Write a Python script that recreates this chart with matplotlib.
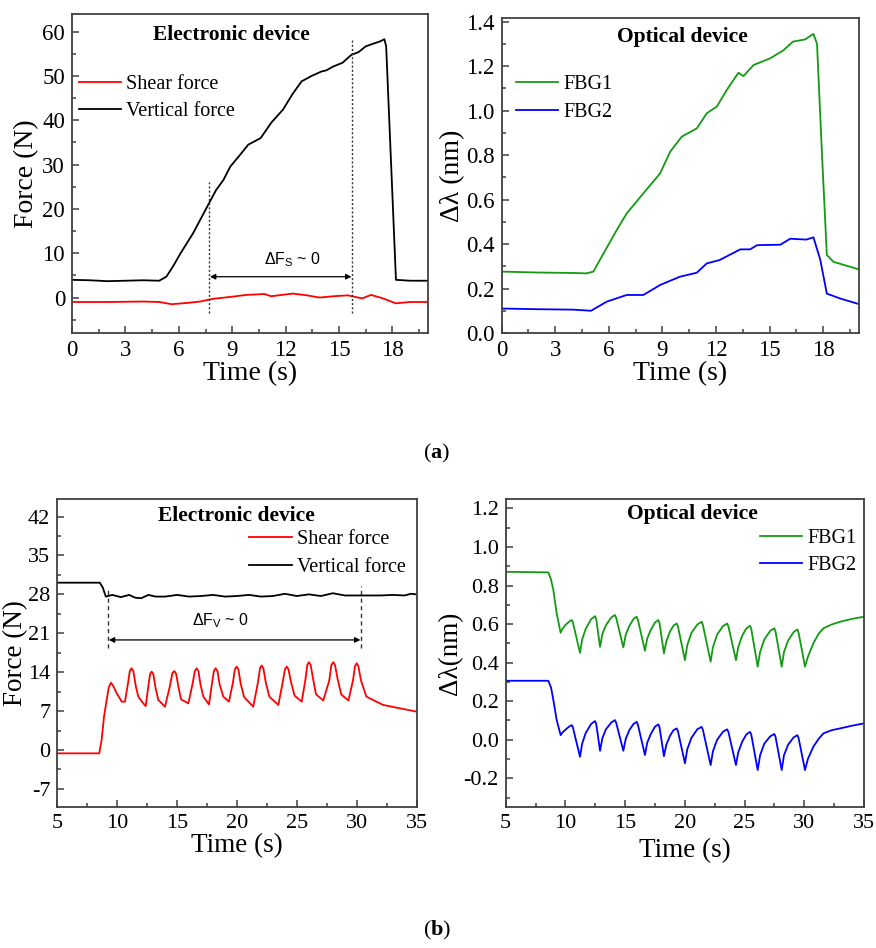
import matplotlib
matplotlib.use("Agg")
import matplotlib.pyplot as plt
from matplotlib.ticker import MultipleLocator, FormatStrFormatter

plt.rcParams['font.family'] = ['Liberation Serif', 'DejaVu Serif']
plt.rcParams['axes.unicode_minus'] = False
plt.rcParams['mathtext.fontset'] = 'custom'
plt.rcParams['mathtext.rm'] = 'Liberation Sans'
plt.rcParams['mathtext.bf'] = 'Liberation Serif:bold'

# ---------------- data: panel (a) ----------------
a_time_vert = [0, 1, 2, 3, 4, 4.9, 5.3, 5.7, 6.1, 6.8, 7.7, 8.1, 8.5, 8.9, 9.5, 9.9,
               10.6, 11.2, 11.85, 12.4, 12.9, 13.45, 14.0, 14.3, 14.65, 15.2, 15.7,
               16.1, 16.5, 17.0, 17.3, 17.55, 17.65, 18.2, 19, 20]
a_vert = [4.0, 3.9, 3.7, 3.8, 3.9, 3.8, 4.7, 7.2, 10, 14.5, 21.3, 24.3, 26.5, 29.6,
          32.5, 34.5, 36, 39.5, 42.4, 46, 48.8, 50, 51, 51.3, 52.1, 53, 54.8, 55.4,
          56.7, 57.4, 57.8, 58.3, 56.7, 4, 3.8, 3.8]
a_time_shear = [0, 2, 4, 4.9, 5.6, 6.5, 7.2, 7.9, 8.8, 9.8, 10.8, 11.2, 12.4, 13.2,
                13.9, 14.7, 15.5, 16.3, 16.8, 17.4, 18.2, 19, 20]
a_shear = [-1.0, -1.0, -0.9, -1.0, -1.5, -1.2, -0.9, -0.3, 0.1, 0.6, 0.8, 0.3, 0.9,
           0.5, 0.0, 0.3, 0.5, -0.2, 0.6, -0.1, -1.3, -1.0, -1.0]

a_time_fbg1 = [0, 2, 4, 4.74, 5.13, 5.7, 6.44, 7.0, 7.93, 8.87, 9.43, 10.08, 10.92,
               11.48, 12.04, 12.6, 13.25, 13.53, 14.1, 15.03, 15.78, 16.3, 16.98,
               17.45, 17.65, 17.93, 18.2, 18.57, 20]
a_fbg1 = [0.276, 0.272, 0.270, 0.268, 0.276, 0.358, 0.463, 0.538, 0.628, 0.718,
          0.815, 0.883, 0.920, 0.988, 1.018, 1.093, 1.170, 1.155, 1.205, 1.235,
          1.272, 1.310, 1.320, 1.345, 1.30, 0.80, 0.351, 0.32, 0.286]
a_time_fbg2 = [0, 2, 4, 5.0, 5.88, 7.0, 7.93, 8.87, 9.97, 10.92, 11.48, 12.2, 13.35,
               13.9, 14.3, 15.6, 16.15, 17.05, 17.45, 17.83, 18.2, 18.95, 20]
a_fbg2 = [0.11, 0.107, 0.105, 0.10, 0.141, 0.171, 0.171, 0.216, 0.253, 0.271, 0.313,
          0.328, 0.376, 0.376, 0.395, 0.397, 0.424, 0.42, 0.43, 0.33, 0.177, 0.155, 0.13]

# ---------------- data: panel (b) ----------------
b_time_vert = [5, 7, 8.55, 8.8, 9.05, 9.6, 10.3, 11.0, 11.5, 12.0, 12.6, 13.2, 14, 15,
               16, 17, 18, 19, 20, 21, 22, 23, 24, 25, 26, 27, 28, 29, 30, 31, 32,
               33, 34, 34.5, 35]
b_vert = [30.1, 30.1, 30.1, 29.2, 27.6, 27.9, 27.5, 27.9, 27.4, 27.3, 27.9, 27.6,
          27.6, 27.9, 27.6, 27.7, 27.9, 27.6, 27.7, 27.9, 27.6, 27.7, 28.1, 27.7,
          28.0, 27.7, 28.2, 27.8, 27.8, 27.8, 27.8, 27.9, 27.8, 28.1, 28.0]
b_time_shear = [5, 7, 8.5, 8.7, 8.9, 9.12, 9.3, 9.48, 9.65, 9.96, 10.38, 10.65,
                10.9, 11.05, 11.2, 11.35, 11.55, 11.76, 12.1, 12.38,
                12.6, 12.75, 12.88, 13.02, 13.2, 13.43, 13.99,
                14.4, 14.6, 14.77, 14.92, 15.1, 15.33, 15.94,
                16.3, 16.48, 16.63, 16.78, 16.95, 17.19, 17.66,
                17.9, 18.07, 18.22, 18.37, 18.55, 18.86, 19.33,
                19.65, 19.82, 19.97, 20.12, 20.3, 20.6, 21.36,
                21.75, 21.92, 22.06, 22.2, 22.4, 22.7, 23.45,
                23.8, 24.0, 24.15, 24.3, 24.5, 24.8, 25.4,
                25.7, 25.87, 26.0, 26.15, 26.35, 26.6, 27.2,
                27.7, 27.88, 28.04, 28.18, 28.4, 28.7, 29.3,
                29.68, 29.85, 29.99, 30.13, 30.35, 30.8, 32.2, 33.6, 35]
b_shear = [-0.6, -0.6, -0.6, 1.8, 6.0, 9.0, 11.3, 12.1, 11.6, 10.2, 8.7, 8.7,
           12.0, 14.2, 14.7, 14.2, 11.5, 9.6, 8.6, 7.9,
           11.5, 13.7, 14.1, 13.6, 11.2, 9.0, 7.8,
           11.5, 13.8, 14.2, 13.7, 11.5, 9.1, 8.4,
           12.0, 14.2, 14.7, 14.2, 11.8, 9.6, 8.2,
           11.8, 14.2, 14.7, 14.2, 11.8, 9.6, 8.7,
           12.0, 14.5, 15.0, 14.5, 12.0, 9.5, 7.8,
           12.2, 14.7, 15.2, 14.7, 12.2, 9.6, 8.1,
           12.0, 14.5, 15.0, 14.5, 12.3, 9.8, 8.7,
           12.5, 15.3, 15.8, 15.3, 12.8, 10.0, 8.9,
           12.5, 15.3, 15.8, 15.3, 12.8, 10.0, 8.9,
           12.5, 15.1, 15.6, 15.1, 12.5, 9.6, 8.1, 7.5, 6.9]

b_time_fbg = [5, 8.57, 8.8, 8.99, 9.27, 9.6,
              9.75, 10.0, 10.3, 10.53, 10.62, 11.22,
              11.4, 11.7, 12.15, 12.48, 12.58, 12.9,
              13.1, 13.4, 13.85, 14.15, 14.25, 14.85,
              15.05, 15.35, 15.7, 15.97, 16.07, 16.66,
              16.85, 17.15, 17.5, 17.78, 17.88, 18.25,
              18.45, 18.75, 19.05, 19.32, 19.42, 20.01,
              20.2, 20.55, 21.05, 21.41, 21.51, 22.16,
              22.35, 22.7, 23.2, 23.55, 23.65, 24.28,
              24.47, 24.8, 25.15, 25.46, 25.56, 26.1,
              26.3, 26.65, 27.15, 27.49, 27.59, 28.11,
              28.3, 28.65, 29.1, 29.42, 29.52, 30.06,
              30.3, 30.76, 31.2, 31.6, 32.3, 33.0, 34.0, 35.0]
b_fbg1 = [0.871, 0.868, 0.83, 0.776, 0.655, 0.555,
          0.575, 0.595, 0.612, 0.621, 0.61, 0.451,
          0.52, 0.575, 0.625, 0.641, 0.625, 0.482,
          0.55, 0.595, 0.635, 0.647, 0.632, 0.479,
          0.545, 0.59, 0.627, 0.638, 0.622, 0.462,
          0.525, 0.57, 0.608, 0.621, 0.605, 0.448,
          0.51, 0.56, 0.592, 0.603, 0.588, 0.413,
          0.49, 0.555, 0.598, 0.612, 0.595, 0.405,
          0.48, 0.545, 0.59, 0.603, 0.587, 0.413,
          0.48, 0.54, 0.578, 0.591, 0.575, 0.379,
          0.455, 0.52, 0.565, 0.578, 0.562, 0.379,
          0.455, 0.515, 0.558, 0.572, 0.556, 0.379,
          0.43, 0.5, 0.55, 0.578, 0.598, 0.612, 0.627, 0.638]
b_fbg2 = [0.306, 0.306, 0.27, 0.206, 0.102, 0.024,
          0.038, 0.052, 0.068, 0.076, 0.066, -0.088,
          -0.02, 0.035, 0.082, 0.097, 0.082, -0.057,
          0.01, 0.055, 0.09, 0.102, 0.088, -0.057,
          0.005, 0.05, 0.082, 0.093, 0.078, -0.079,
          -0.015, 0.03, 0.068, 0.08, 0.065, -0.085,
          -0.025, 0.02, 0.05, 0.059, 0.045, -0.122,
          -0.05, 0.01, 0.055, 0.067, 0.052, -0.131,
          -0.06, 0.0, 0.042, 0.054, 0.04, -0.131,
          -0.065, -0.01, 0.028, 0.041, 0.027, -0.157,
          -0.08, -0.02, 0.018, 0.03, 0.016, -0.157,
          -0.08, -0.025, 0.012, 0.024, 0.01, -0.157,
          -0.1, -0.036, 0.005, 0.033, 0.05, 0.059, 0.073, 0.085]

RED = '#ff0000'
GREEN = '#139a13'
BLUE = '#0000ff'
SPINE = '#404040'

W, H = 876, 948
fig = plt.figure(figsize=(W / 100, H / 100), dpi=100)


def px_axes(l, t, r, b):
    return fig.add_axes([l / W, (H - b) / H, (r - l) / W, (b - t) / H])


def style(ax, tick_fs):
    for s in ax.spines.values():
        s.set_color(SPINE)
        s.set_linewidth(1.3)
    ax.tick_params(which='both', direction='in', top=False, right=False,
                   color=SPINE, labelsize=tick_fs, width=1.1)
    ax.tick_params(which='major', length=5, pad=5)
    ax.tick_params(which='minor', length=3)


LW = 1.3
LEG = dict(loc='upper left', frameon=False, fontsize=14.5, handlelength=2.1,
           handletextpad=0.25, labelspacing=0.42, borderpad=0, borderaxespad=0)

# ---- (a) left ----
ax1 = px_axes(72, 14, 428, 333)
ax1.plot(a_time_shear, a_shear, color=RED, lw=LW, label='Shear force')
ax1.plot(a_time_vert, a_vert, color='black', lw=LW, label='Vertical force')
ax1.set_xlim(0, 20)
ax1.set_ylim(-8, 64)
ax1.xaxis.set_major_locator(MultipleLocator(3))
ax1.xaxis.set_minor_locator(MultipleLocator(1.5))
ax1.yaxis.set_major_locator(MultipleLocator(10))
ax1.yaxis.set_minor_locator(MultipleLocator(5))
style(ax1, 16.5)
ax1.set_xlabel('Time (s)', fontsize=20, labelpad=0)
ax1.set_ylabel('Force (N)', fontsize=20, labelpad=2)
ax1.text(0.449, 0.934, 'Electronic device', transform=ax1.transAxes, ha='center',
         va='center', fontsize=15.5, fontweight='bold')
ax1.legend(bbox_to_anchor=(0.02, 0.81), **LEG)
for xv, ytop in [(7.7, 26), (15.74, 58.6)]:
    ax1.plot([xv, xv], [-3.5, ytop], color='#333333', lw=1.0, ls=(0, (1.5, 1.5)))
ax1.annotate('', xy=(7.75, 4.7), xytext=(15.7, 4.7),
             arrowprops=dict(arrowstyle='<|-|>', color='black', lw=0.9,
                             mutation_scale=8, shrinkA=0, shrinkB=0))
ax1.text(12.4, 8.6, r'$\mathregular{\Delta F_S}$ ~ 0', ha='center', va='center',
         fontsize=11.5, family=['Liberation Sans', 'DejaVu Sans'])

# ---- (a) right ----
ax2 = px_axes(501.7, 18.3, 859, 333)
ax2.plot(a_time_fbg1, a_fbg1, color=GREEN, lw=LW, label='FBG1')
ax2.plot(a_time_fbg2, a_fbg2, color=BLUE, lw=LW, label='FBG2')
ax2.set_xlim(0, 20)
ax2.set_ylim(0, 1.415)
ax2.xaxis.set_major_locator(MultipleLocator(3))
ax2.xaxis.set_minor_locator(MultipleLocator(1.5))
ax2.yaxis.set_major_locator(MultipleLocator(0.2))
ax2.yaxis.set_minor_locator(MultipleLocator(0.1))
ax2.yaxis.set_major_formatter(FormatStrFormatter('%.1f'))
style(ax2, 16.5)
ax2.set_xlabel('Time (s)', fontsize=20, labelpad=0)
ax2.set_ylabel('Δλ (nm)', fontsize=20, labelpad=1)
ax2.text(0.505, 0.94, 'Optical device', transform=ax2.transAxes, ha='center',
         va='center', fontsize=15.5, fontweight='bold')
ax2.legend(bbox_to_anchor=(0.04, 0.82), **LEG)

fig.text(437 / W, 1 - 453 / H, r'($\mathbf{a}$)', ha='center', va='center', fontsize=16)

# ---- (b) left ----
ax3 = px_axes(57.3, 499.3, 416.7, 806.7)
ax3.plot(b_time_shear, b_shear, color=RED, lw=LW, label='Shear force')
ax3.plot(b_time_vert, b_vert, color='black', lw=LW, label='Vertical force')
ax3.set_xlim(5, 35)
ax3.set_ylim(-10.2, 45.1)
ax3.xaxis.set_major_locator(MultipleLocator(5))
ax3.xaxis.set_minor_locator(MultipleLocator(2.5))
ax3.yaxis.set_major_locator(MultipleLocator(7))
ax3.yaxis.set_minor_locator(MultipleLocator(3.5))
style(ax3, 16)
ax3.set_xlabel('Time (s)', fontsize=19.5, labelpad=0)
ax3.set_ylabel('Force (N)', fontsize=19.5, labelpad=0)
ax3.text(0.499, 0.946, 'Electronic device', transform=ax3.transAxes, ha='center',
         va='center', fontsize=15.5, fontweight='bold')
ax3.legend(bbox_to_anchor=(0.534, 0.90), **LEG)
for xv, ytop in [(9.2, 29.2), (30.35, 29.5)]:
    ax3.plot([xv, xv], [18.3, ytop], color='#333333', lw=1.0, ls=(0, (3, 2.5)))
ax3.annotate('', xy=(9.3, 19.8), xytext=(30.3, 19.8),
             arrowprops=dict(arrowstyle='<|-|>', color='black', lw=0.9,
                             mutation_scale=8, shrinkA=0, shrinkB=0))
ax3.text(18.6, 23.3, r'$\mathregular{\Delta F_V}$ ~ 0', ha='center', va='center',
         fontsize=11.5, family=['Liberation Sans', 'DejaVu Sans'])

# ---- (b) right ----
ax4 = px_axes(505.7, 499.3, 864, 806.7)
ax4.plot(b_time_fbg, b_fbg1, color=GREEN, lw=LW, label='FBG1')
ax4.plot(b_time_fbg, b_fbg2, color=BLUE, lw=LW, label='FBG2')
ax4.set_xlim(5, 35)
ax4.set_ylim(-0.347, 1.247)
ax4.xaxis.set_major_locator(MultipleLocator(5))
ax4.xaxis.set_minor_locator(MultipleLocator(2.5))
ax4.yaxis.set_major_locator(MultipleLocator(0.2))
ax4.yaxis.set_minor_locator(MultipleLocator(0.1))
ax4.yaxis.set_major_formatter(FormatStrFormatter('%.1f'))
style(ax4, 16)
ax4.set_xlabel('Time (s)', fontsize=19.5, labelpad=4)
ax4.set_ylabel('Δλ(nm)', fontsize=19.5, labelpad=0)
ax4.text(0.521, 0.952, 'Optical device', transform=ax4.transAxes, ha='center',
         va='center', fontsize=15.5, fontweight='bold')
ax4.legend(bbox_to_anchor=(0.71, 0.905), **LEG)

fig.text(437 / W, 1 - 930 / H, r'($\mathbf{b}$)', ha='center', va='center', fontsize=16)

fig.savefig('out.png', dpi=100, facecolor='white')
